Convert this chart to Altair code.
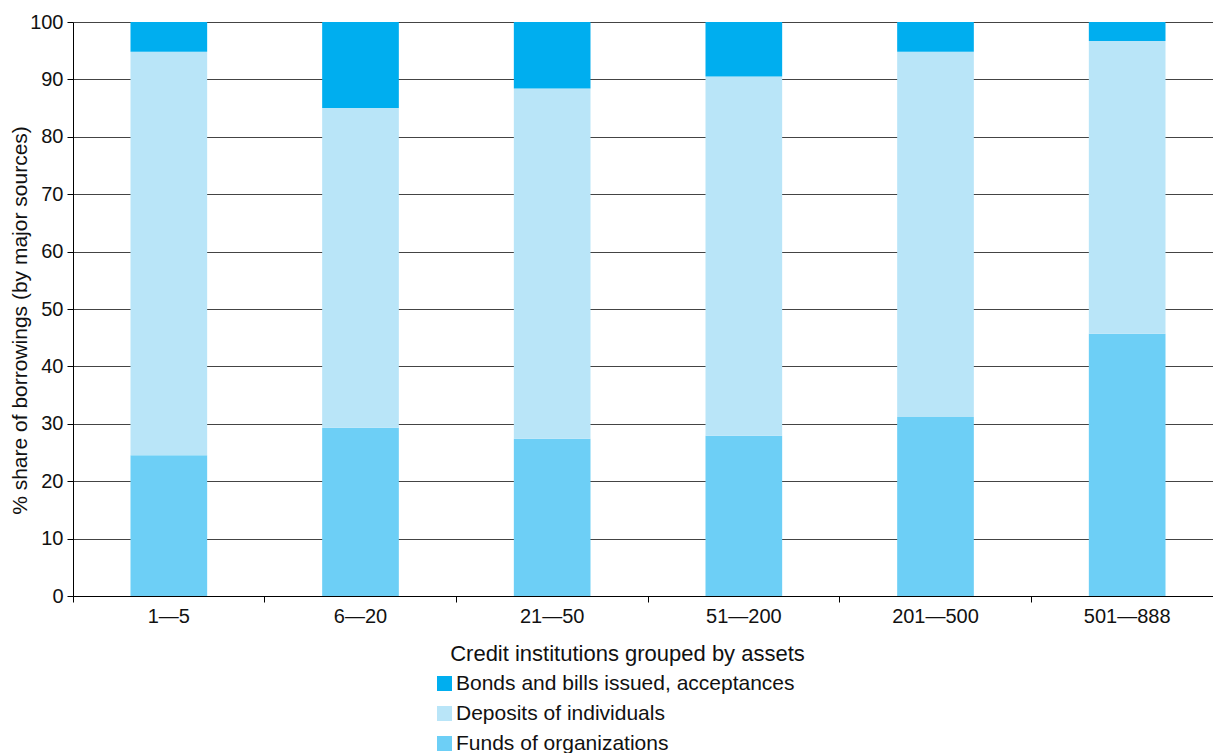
import altair as alt
import pandas as pd

groups = ["1—5", "6—20", "21—50", "51—200", "201—500", "501—888"]
series = ["Bonds and bills issued, acceptances", "Deposits of individuals", "Funds of organizations"]
funds = [24.5, 29.3, 27.4, 27.9, 31.2, 45.7]
deposits = [70.3, 55.7, 61.0, 62.6, 63.6, 51.0]
bonds = [5.2, 15.0, 11.6, 9.5, 5.2, 3.3]
colors = ["#00AEEF", "#B9E5F8", "#6DCFF6"]

rows = []
for i, g in enumerate(groups):
    rows.append({"group": g, "series": series[2], "value": funds[i], "rank": 0})
    rows.append({"group": g, "series": series[1], "value": deposits[i], "rank": 1})
    rows.append({"group": g, "series": series[0], "value": bonds[i], "rank": 2})
df = pd.DataFrame(rows)

FONT = "Liberation Sans"

chart = alt.Chart(df).mark_bar().encode(
    x=alt.X("group:N", sort=groups,
            scale=alt.Scale(range=[0, 1150], paddingInner=0.6, paddingOuter=0.3),
            axis=alt.Axis(title="Credit institutions grouped by assets", labelAngle=0,
                          bandPosition=-0.75, tickSize=6, tickColor="#000",
                          domainColor="#000", labelFontSize=20, labelColor="#111",
                          labelPadding=4, titleFontSize=22, titleFontWeight="normal",
                          titleColor="#111", titleX=554, titleY=57,
                          titleBaseline="middle", titleAlign="center")),
    y=alt.Y("value:Q", stack="zero",
            scale=alt.Scale(domain=[0, 100], nice=False),
            axis=alt.Axis(title="% share of borrowings (by major sources)",
                          values=list(range(0, 101, 10)), tickSize=6,
                          tickColor="#000", domainColor="#000",
                          gridColor="#444", gridOpacity=1, labelFontSize=20,
                          labelColor="#111", labelPadding=4, titleFontSize=21,
                          titleFontWeight="normal", titleColor="#111",
                          titleX=-53, titleY=298, titleAngle=-90,
                          titleBaseline="middle", titleAlign="center")),
    color=alt.Color("series:N",
                    scale=alt.Scale(domain=series, range=colors),
                    legend=alt.Legend(title=None, orient="none", legendX=361,
                                      legendY=651, symbolType="square",
                                      symbolSize=225, symbolStrokeWidth=0,
                                      labelFontSize=21, labelColor="#111",
                                      labelLimit=600, rowPadding=8, labelOffset=1)),
    order=alt.Order("rank:Q"),
).properties(
    width=1140, height=574,
    autosize=alt.AutoSizeParams(type="none"),
    padding={"left": 73, "top": 22, "right": 0, "bottom": 157},
).configure_view(stroke=None).configure(font=FONT).configure_axisX(grid=False)

chart.save("out.html", embed_options={"renderer": "svg", "actions": False})
